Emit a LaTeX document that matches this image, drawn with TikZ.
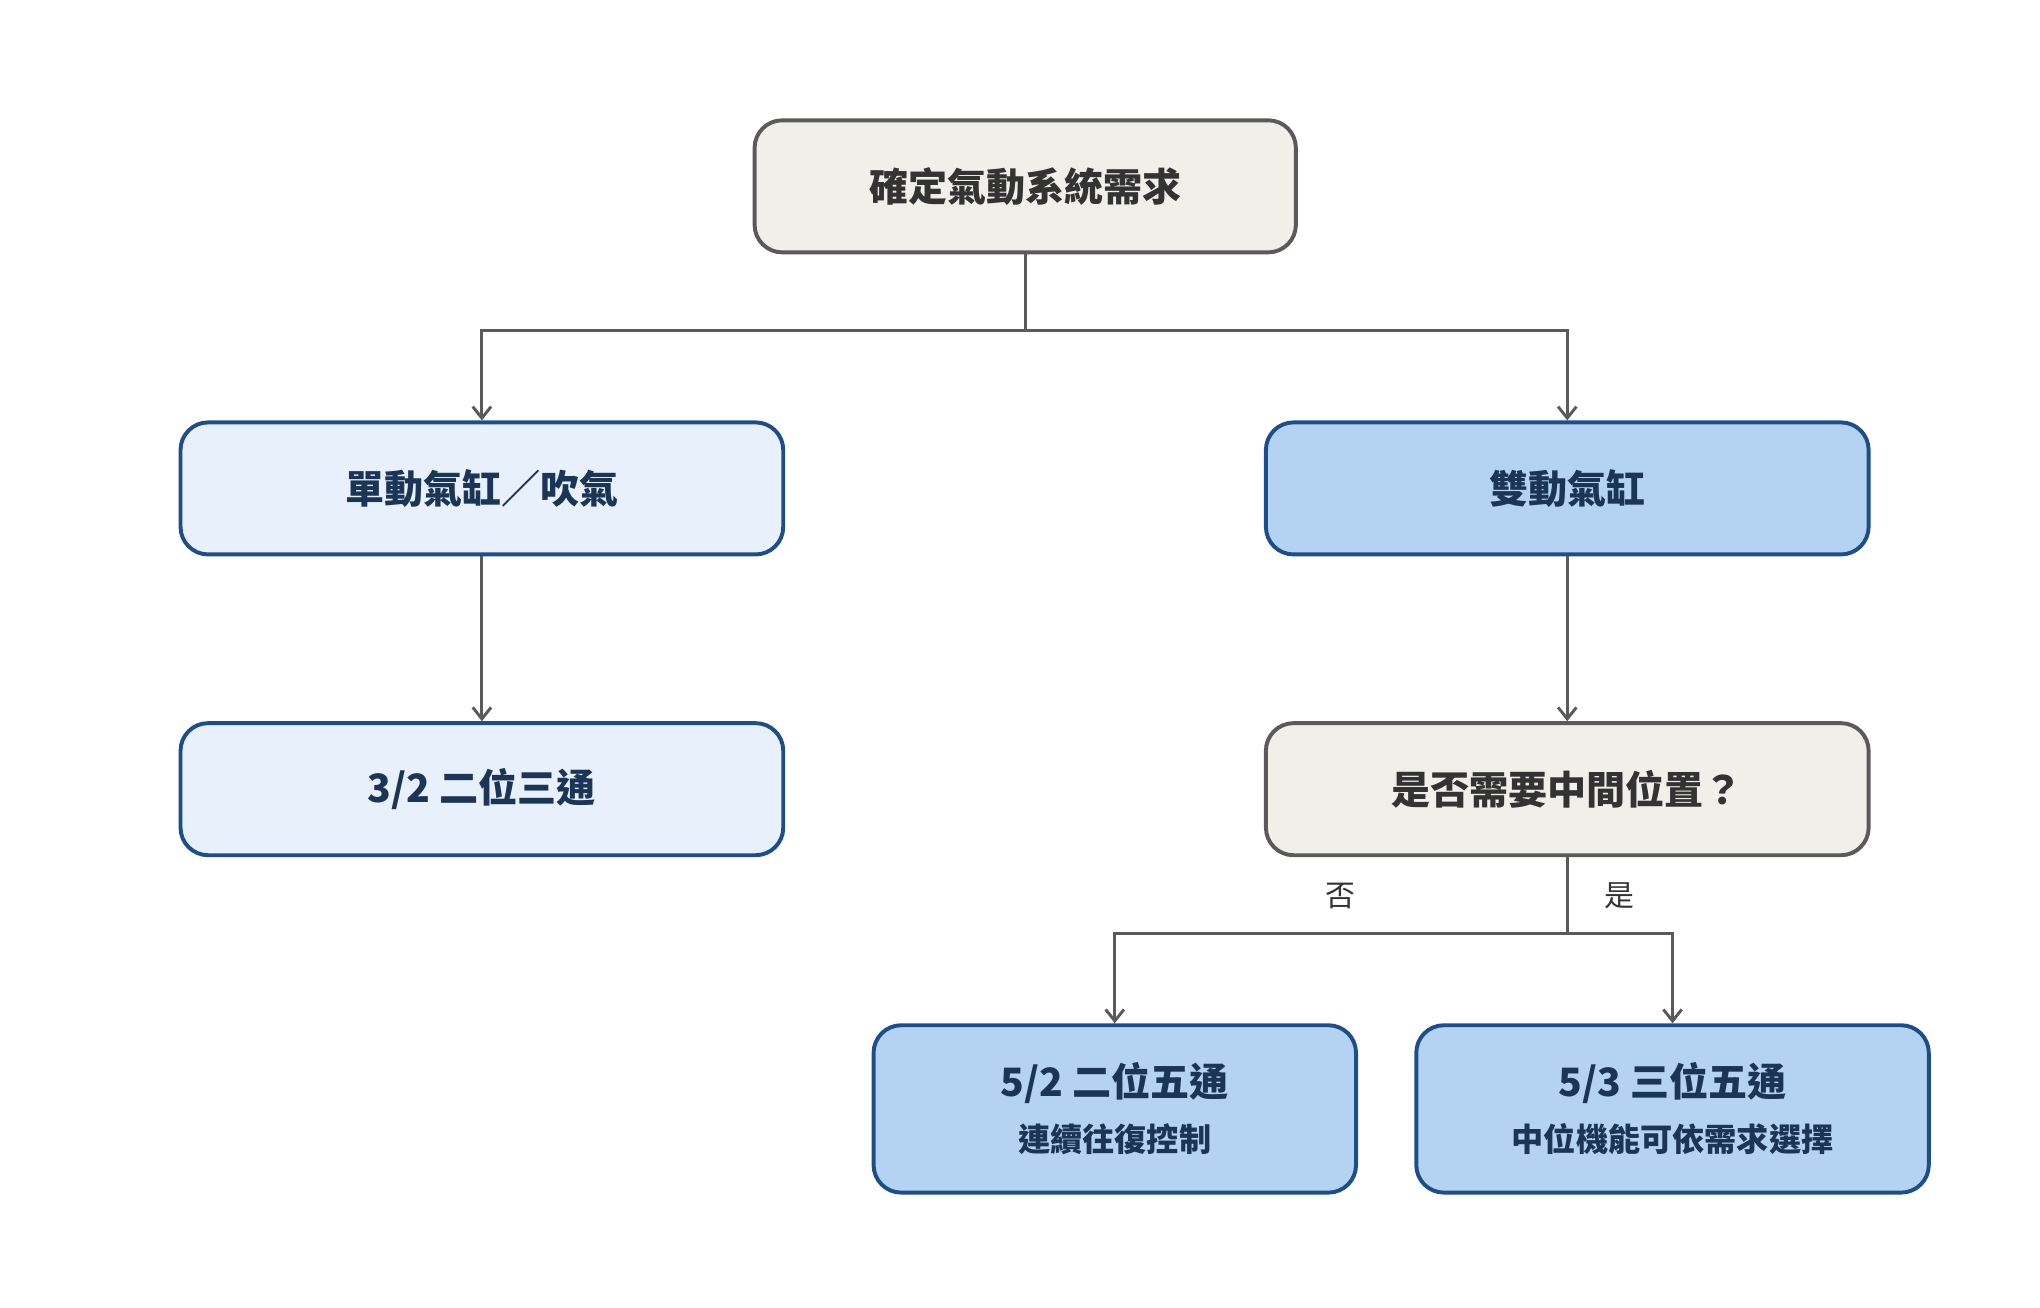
\documentclass[tikz,border=0pt]{standalone}
\usepackage{fontspec}
\setmainfont{Noto Sans CJK TC}
\usetikzlibrary{arrows.meta}
\definecolor{grayfill}{HTML}{F0EFEA}
\definecolor{grayline}{HTML}{5A5A5A}
\definecolor{lightfill}{HTML}{E8F0FB}
\definecolor{bluefill}{HTML}{B4D3F2}
\definecolor{blueline}{HTML}{1E4E8A}
\definecolor{navytext}{HTML}{1B3556}
\tikzset{
	box/.style={rounded corners=12pt, line width=0.6mm, align=center, font=\fontsize{17}{22}\selectfont\bfseries},
	graybox/.style={box, fill=grayfill, draw=grayline, text=black!80},
	lightbox/.style={box, fill=lightfill, draw=blueline, text=navytext},
	bluebox/.style={box, fill=bluefill, draw=blueline, text=navytext},
	link/.style={draw=grayline, line width=0.45mm},
	arr/.style={link, -{Straight Barb[length=5pt,width=8pt]}},
	lbl/.style={font=\fontsize{13}{16}\selectfont, text=black!80}
}
\begin{document}
\begin{tikzpicture}[x=0.02cm, y=-0.02cm]
	\useasboundingbox (0,0) rectangle (1560,1000);
	
	\node[graybox, minimum width=8.28cm, minimum height=2.02cm] (need) at (784,142.5) {確定氣動系統需求};
	\node[lightbox, minimum width=9.22cm, minimum height=2.02cm] (single) at (368.5,373.5) {單動氣缸／吹氣};
	\node[bluebox, minimum width=9.22cm, minimum height=2.02cm] (double) at (1198.5,373.5) {雙動氣缸};
	\node[lightbox, minimum width=9.22cm, minimum height=2.02cm] (v32) at (368.5,603.5) {3/2 二位三通};
	\node[graybox, minimum width=9.22cm, minimum height=2.02cm] (mid) at (1198.5,603.5) {是否需要中間位置？};
	\node[bluebox, minimum width=7.38cm, minimum height=2.56cm] (v52) at (852.5,848) {5/2 二位五通\\[2pt]{\fontsize{14}{18}\selectfont 連續往復控制}};
	\node[bluebox, minimum width=7.84cm, minimum height=2.56cm] (v53) at (1279,848) {5/3 三位五通\\[2pt]{\fontsize{14}{18}\selectfont 中位機能可依需求選擇}};
	
	\coordinate (split1) at (784,253);
	\coordinate (split2) at (1198.5,714);
	
	\draw[link] (need) -- (split1);
	\draw[arr] (split1) -| (single);
	\draw[arr] (split1) -| (double);
	\draw[arr] (single) -- (v32);
	\draw[arr] (double) -- (mid);
	\draw[link] (mid) -- (split2);
	\draw[arr] (split2) -| (v52);
	\draw[arr] (split2) -| (v53);
	
	\node[lbl] (no) at (1025,685) {否};
	\node[lbl] (yes) at (1238,685) {是};
\end{tikzpicture}
\end{document}
